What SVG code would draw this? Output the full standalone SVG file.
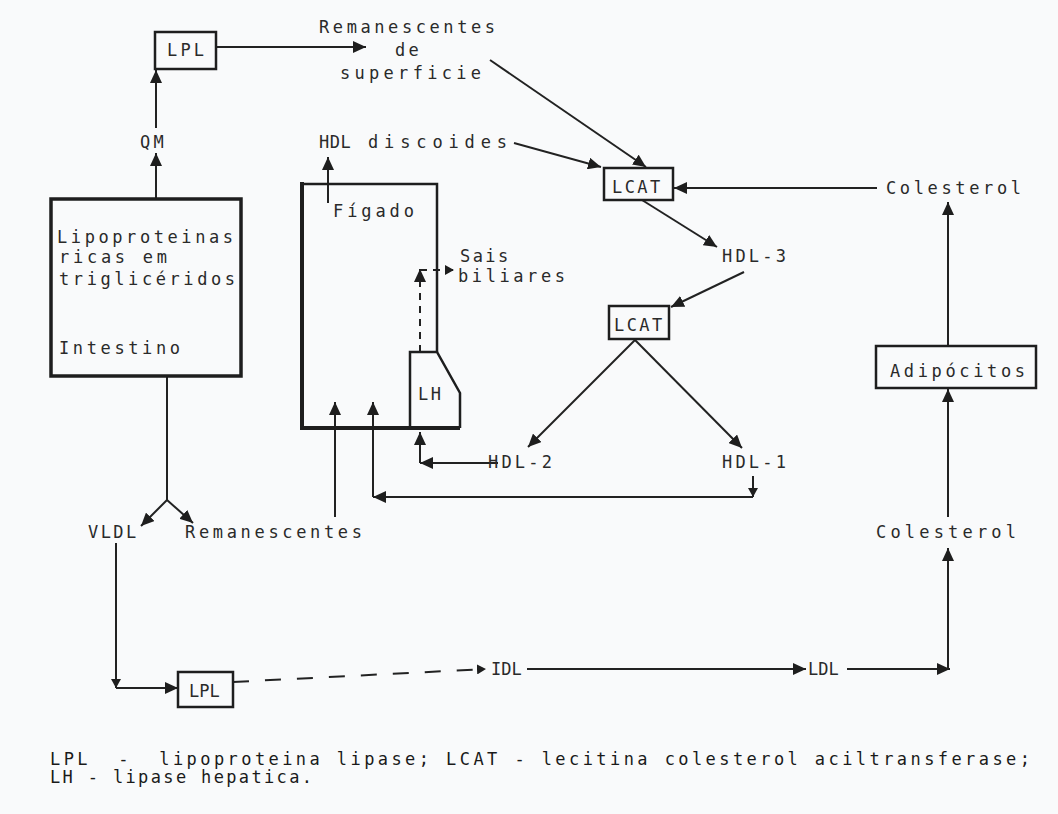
<svg xmlns="http://www.w3.org/2000/svg" width="1058" height="814" viewBox="0 0 1058 814">
<style>
text{font-family:"DejaVu Sans Mono","Liberation Mono",monospace;font-size:17px;fill:#2a2a2a}
.ls{letter-spacing:3.2px}
.ls2{letter-spacing:2.4px}
.lg{font-size:17px;fill:#1a1a1a}
.nar{font-size:17px}
.box{fill:none;stroke:#1e1e1e;stroke-width:2.5}
.thick{fill:none;stroke:#1e1e1e;stroke-width:3.5}
.ln{fill:none;stroke:#222;stroke-width:2}
.dash{fill:none;stroke:#222;stroke-width:2;stroke-dasharray:7 6}
.ldash{fill:none;stroke:#222;stroke-width:2;stroke-dasharray:16 16}
</style>
<defs>
<marker id="ah" markerUnits="userSpaceOnUse" markerWidth="14" markerHeight="12" refX="13" refY="6" orient="auto">
<path d="M0,0 L13,6 L0,12 Z" fill="#1e1e1e"/>
</marker>
<marker id="ahs" markerUnits="userSpaceOnUse" markerWidth="10" markerHeight="10" refX="9" refY="5" orient="auto">
<path d="M0,0 L9,5 L0,10 Z" fill="#1e1e1e"/>
</marker>
</defs>
<rect width="1058" height="814" fill="#f9fafb"/>

<g id="connectors">
<path class="ln" d="M216,47 H366" marker-end="url(#ah)"/>
<path class="ln" d="M156,128 V70" marker-end="url(#ah)"/>
<path class="ln" d="M156,198 V153" marker-end="url(#ah)"/>
<path class="ln" d="M167,376 V500"/>
<path class="ln" d="M167,500 L141,526" marker-end="url(#ah)"/>
<path class="ln" d="M167,500 L193,523" marker-end="url(#ah)"/>
<path class="ln" d="M116,543 V688" marker-end="url(#ahs)"/>
<path class="ln" d="M116,688 H178" marker-end="url(#ah)"/>
<path class="ldash" d="M233,682 L486,669" marker-end="url(#ahs)"/>
<path class="ln" d="M527,669 H806" marker-end="url(#ah)"/>
<path class="ln" d="M847,669 H950" marker-end="url(#ah)"/>
<path class="ln" d="M948,669 V548" marker-end="url(#ah)"/>
<path class="ln" d="M948,517 V389" marker-end="url(#ah)"/>
<path class="ln" d="M948,346 V202" marker-end="url(#ah)"/>
<path class="ln" d="M877,188 H674" marker-end="url(#ah)"/>
<path class="ln" d="M490,60 L646,167" marker-end="url(#ah)"/>
<path class="ln" d="M514,143 L601,167" marker-end="url(#ah)"/>
<path class="ln" d="M642,200 L717,247" marker-end="url(#ah)"/>
<path class="ln" d="M744,272 L671,307" marker-end="url(#ah)"/>
<path class="ln" d="M635,340 L528,447" marker-end="url(#ah)"/>
<path class="ln" d="M635,340 L742,448" marker-end="url(#ah)"/>
<path class="ln" d="M753,476 V497" marker-end="url(#ahs)"/>
<path class="ln" d="M753,497 H373" marker-end="url(#ah)"/>
<path class="ln" d="M373,497 V402" marker-end="url(#ah)"/>
<path class="ln" d="M335,517 V402" marker-end="url(#ah)"/>
<path class="ln" d="M498,463 H420" marker-end="url(#ah)"/>
<path class="ln" d="M420,463 V432" marker-end="url(#ah)"/>
<path class="dash" d="M420,352 V269" marker-end="url(#ah)"/>
<path class="dash" d="M420,270 H454" marker-end="url(#ahs)"/>
<path class="ln" d="M328,203 V157" marker-end="url(#ah)"/>
</g>

<g id="lpl-top">
<rect class="box" x="155" y="32" width="61" height="37"/>
<text class="ls" x="167" y="56">LPL</text>
</g>
<g id="remanescentes-sup">
<text x="319" y="33" textLength="176" lengthAdjust="spacing">Remanescentes</text>
<text class="ls" x="395" y="56">de</text>
<text x="340" y="79" textLength="141" lengthAdjust="spacing">superficie</text>
</g>
<g id="qm"><text class="ls" x="140" y="148">QM</text></g>
<g id="intestino">
<rect class="thick" x="51" y="199" width="190" height="177"/>
<text x="57" y="243" textLength="176" lengthAdjust="spacing">Lipoproteinas</text>
<text x="59" y="263" textLength="108" lengthAdjust="spacing">ricas em</text>
<text x="59" y="285" textLength="176" lengthAdjust="spacing">triglicéridos</text>
<text x="59" y="354" textLength="121" lengthAdjust="spacing">Intestino</text>
</g>
<g id="hdl-discoides">
<text x="319" y="148" style="letter-spacing:0.5px">HDL</text>
<text x="368" y="148" textLength="139" lengthAdjust="spacing">discoides</text>
</g>
<g id="figado">
<path class="box" d="M302,184 H437 V352"/>
<path fill="none" stroke="#1e1e1e" stroke-width="4" d="M302,182 V428 H460"/>
<text x="333" y="217" textLength="81" lengthAdjust="spacing">Fígado</text>
</g>
<g id="lh">
<path class="box" d="M410,428 V352 H437 L460,393 V428"/>
<text class="ls2" x="418" y="400">LH</text>
</g>
<g id="sais-biliares">
<text class="ls2" x="460" y="262">Sais</text>
<text x="458" y="282" textLength="107" lengthAdjust="spacing">biliares</text>
</g>
<g id="lcat-1">
<rect class="box" x="604" y="168" width="69" height="32"/>
<text class="ls2" x="612" y="193">LCAT</text>
</g>
<g id="colesterol-top"><text x="886" y="194" textLength="135" lengthAdjust="spacing">Colesterol</text></g>
<g id="hdl-3"><text class="ls" x="722" y="262">HDL-3</text></g>
<g id="lcat-2">
<rect class="box" x="609" y="306" width="60" height="33"/>
<text class="ls2" x="614" y="331">LCAT</text>
</g>
<g id="hdl-2"><text class="ls" x="488" y="468">HDL-2</text></g>
<g id="hdl-1"><text class="ls" x="722" y="468">HDL-1</text></g>
<g id="adipocitos">
<rect class="box" x="876" y="346" width="160" height="42"/>
<text x="890" y="377" textLength="135" lengthAdjust="spacing">Adipócitos</text>
</g>
<g id="vldl"><text class="ls2" x="88" y="538">VLDL</text></g>
<g id="remanescentes-inf"><text x="185" y="538" textLength="177" lengthAdjust="spacing">Remanescentes</text></g>
<g id="colesterol-bottom"><text x="876" y="538" textLength="140" lengthAdjust="spacing">Colesterol</text></g>
<g id="lpl-bottom">
<rect class="box" x="178" y="672" width="55" height="35"/>
<text class="nar" x="189" y="697">LPL</text>
</g>
<g id="idl"><text class="nar" x="491" y="675">IDL</text></g>
<g id="ldl"><text class="nar" x="808" y="675">LDL</text></g>
<g id="legend">
<text class="lg" x="50" y="765" textLength="980" lengthAdjust="spacing" xml:space="preserve">LPL  -  lipoproteina lipase; LCAT - lecitina colesterol aciltransferase;</text>
<text class="lg" x="50" y="783" textLength="262" lengthAdjust="spacing">LH - lipase hepatica.</text>
</g>
</svg>
